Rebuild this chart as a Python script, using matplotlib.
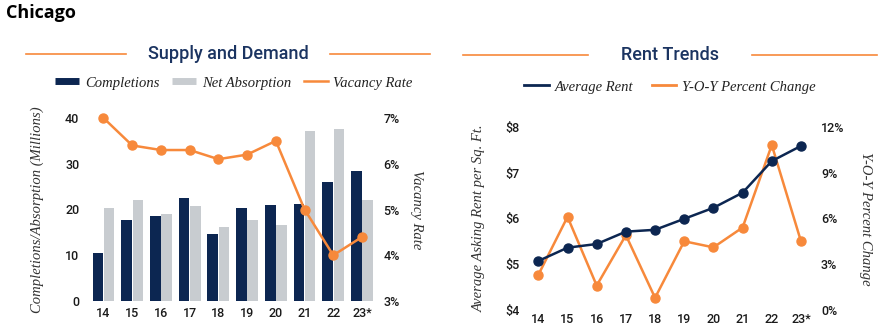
import matplotlib
matplotlib.use("Agg")
import matplotlib.pyplot as plt
from matplotlib.lines import Line2D
import numpy as np

years = ["14", "15", "16", "17", "18", "19", "20", "21", "22", "23*"]
completions = [10.4, 17.6, 18.5, 22.6, 14.6, 20.4, 20.9, 21.1, 26.1, 28.5]
net_absorption = [20.4, 22.0, 19.0, 20.7, 16.1, 17.7, 16.7, 37.1, 37.7, 22.0]
vacancy_rate = [7.0, 6.4, 6.3, 6.3, 6.1, 6.2, 6.5, 5.0, 4.0, 4.4]
average_rent = [5.07, 5.36, 5.44, 5.71, 5.75, 5.99, 6.23, 6.56, 7.25, 7.58]
yoy_change = [2.3, 6.1, 1.6, 4.9, 0.8, 4.5, 4.1, 5.4, 10.8, 4.5]

NAVY = "#0c2651"
GREY = "#c8ccd0"
ORANGE = "#f7893b"
TEXT = "#1a1a1a"
HEAD = "#1b3461"

W, H = 895, 334
fig = plt.figure(figsize=(W / 100, H / 100), dpi=100)

tick_font = dict(family="Roboto", size=9, color=TEXT)
label_font = dict(family="Liberation Serif", style="italic", size=10.5, color="#333333")


def fx(px):
    return px / W


def fy(py):
    return 1 - py / H


def style_axis(ax):
    for s in ax.spines.values():
        s.set_visible(False)
    ax.tick_params(length=0)
    for lab in ax.get_xticklabels() + ax.get_yticklabels():
        lab.set_fontfamily(tick_font["family"])
        lab.set_fontsize(tick_font["size"])
        lab.set_color(tick_font["color"])
        lab.set_fontweight("medium")


# Page title
fig.text(fx(6), fy(13), "Chicago", fontsize=13, fontweight="bold",
         family="Open Sans", color="black", va="center", ha="left")


def section_heading(text, cx, cy, l1, l2):
    fig.text(fx(cx), fy(cy), text, fontsize=13, family="Roboto",
             fontweight="medium", color=HEAD, ha="center", va="center")
    for a, b in (l1, l2):
        fig.add_artist(Line2D([fx(a), fx(b)], [fy(cy), fy(cy)],
                              color=ORANGE, lw=1.2, transform=fig.transFigure))


section_heading("Supply and Demand", 228, 54, (26, 126), (330, 430))
section_heading("Rent Trends", 670, 55, (463, 588), (752, 877))

# ---------- Supply and Demand ----------
x = np.arange(len(years))
left, right = 87.7, 377.8
bottom, top = 301, 118
ax1 = fig.add_axes([fx(left), fy(bottom), fx(right - left), fy(top) - fy(bottom)])
bw = 0.37
ax1.bar(x - bw / 2 - 0.01, completions, width=bw, color=NAVY, zorder=2)
ax1.bar(x + bw / 2 + 0.01, net_absorption, width=bw, color=GREY, zorder=2)
ax1.set_xlim(-0.55, 9.55)
ax1.set_ylim(0, 40)
ax1.set_yticks([0, 10, 20, 30, 40])
ax1.set_xticks(x)
ax1.set_xticklabels(years)
ax1.tick_params(axis="x", pad=4)
ax1.tick_params(axis="y", pad=6)
ax1.set_ylabel("Completions/Absorption (Millions)", labelpad=15, **label_font)
style_axis(ax1)

ax1r = ax1.twinx()
ax1r.plot(x, vacancy_rate, color=ORANGE, lw=1.8, marker="o", ms=6.5,
          clip_on=False, zorder=3)
ax1r.set_ylim(3, 7)
ax1r.set_yticks([3, 4, 5, 6, 7])
ax1r.set_yticklabels([f"{v}%" for v in range(3, 8)])
ax1r.tick_params(axis="y", pad=4)
ax1r.set_ylabel("Vacancy Rate", rotation=270, labelpad=17, **label_font)
style_axis(ax1r)

leg_font = dict(family="Liberation Serif", style="italic", size=10.5)
h1 = [Line2D([], [], color=NAVY, lw=5, solid_capstyle="butt"),
      Line2D([], [], color=GREY, lw=5, solid_capstyle="butt"),
      Line2D([], [], color=ORANGE, lw=1.8)]
fig.legend(h1, ["Completions", "Net Absorption", "Vacancy Rate"],
           loc="center", bbox_to_anchor=(fx(234), fy(83)), ncol=3,
           frameon=False, prop=leg_font, handlelength=1.65,
           handletextpad=0.4, columnspacing=0.85, labelcolor="#222222")

# ---------- Rent Trends ----------
left2, right2 = 525.2, 814.1
bottom2, top2 = 310, 126.7
ax2 = fig.add_axes([fx(left2), fy(bottom2), fx(right2 - left2), fy(top2) - fy(bottom2)])
ax2.plot(x, average_rent, color=NAVY, lw=1.8, marker="o", ms=6.5,
         clip_on=False, zorder=4)
ax2.set_xlim(-0.45, 9.45)
ax2.set_ylim(4, 8)
ax2.set_yticks([4, 5, 6, 7, 8])
ax2.set_yticklabels([f"${v}" for v in range(4, 9)])
ax2.set_xticks(x)
ax2.set_xticklabels(years)
ax2.tick_params(axis="x", pad=2)
ax2.tick_params(axis="y", pad=4)
ax2.set_ylabel("Average Asking Rent per Sq. Ft.", labelpad=14, **label_font)
style_axis(ax2)

ax2r = ax2.twinx()
ax2r.plot(x, yoy_change, color=ORANGE, lw=1.8, marker="o", ms=6.5,
          clip_on=False, zorder=3)
ax2r.set_ylim(0, 12)
ax2r.set_yticks([0, 3, 6, 9, 12])
ax2r.set_yticklabels([f"{v}%" for v in (0, 3, 6, 9, 12)])
ax2r.tick_params(axis="y", pad=5)
ax2r.set_ylabel("Y-O-Y Percent Change", rotation=270, labelpad=20, **label_font)
style_axis(ax2r)
ax2.set_zorder(ax2r.get_zorder() + 1)
ax2.patch.set_visible(False)

h2 = [Line2D([], [], color=NAVY, lw=2),
      Line2D([], [], color=ORANGE, lw=2)]
fig.legend(h2, ["Average Rent", "Y-O-Y Percent Change"],
           loc="center", bbox_to_anchor=(fx(670), fy(87)), ncol=2,
           frameon=False, prop=leg_font, handlelength=1.65,
           handletextpad=0.4, columnspacing=1.3, labelcolor="#222222")

fig.savefig("out.png", dpi=100, facecolor="white")
